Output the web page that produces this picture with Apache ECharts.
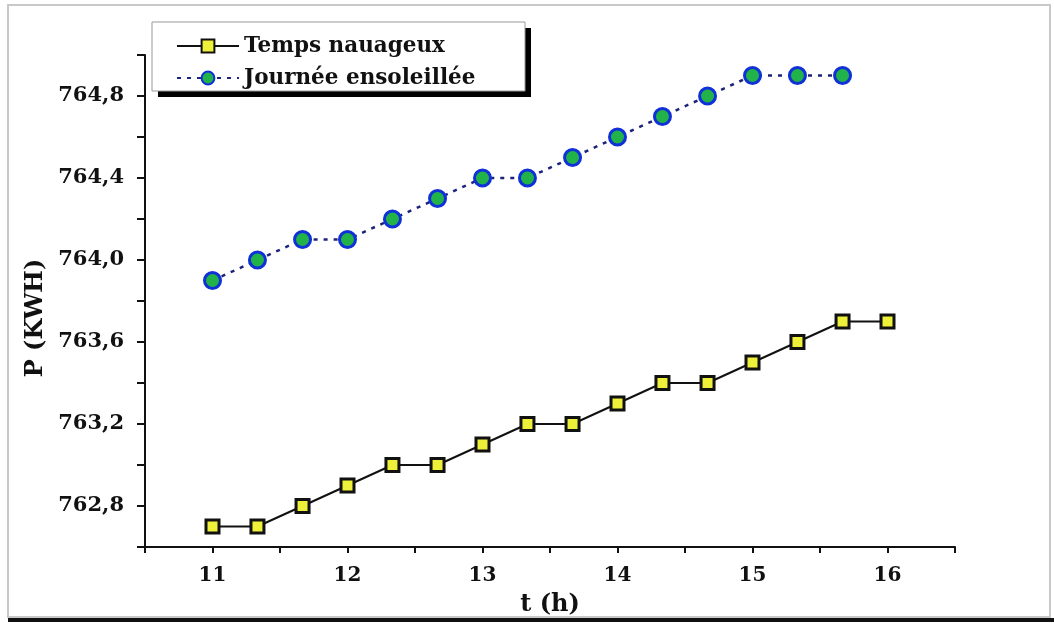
<!DOCTYPE html>
<html>
<head>
<meta charset="utf-8">
<script src="https://cdn.jsdelivr.net/npm/echarts@6/dist/echarts.min.js"></script>
<style>
html,body{margin:0;padding:0;background:#fff;}
#c{width:1054px;height:623px;}
</style>
</head>
<body>
<div id="c"></div>
<script>
// Time (h) for each measurement, every 20 minutes
var timesCloudy = [11, 11.333, 11.667, 12, 12.333, 12.667, 13, 13.333, 13.667, 14, 14.333, 14.667, 15, 15.333, 15.667, 16];
var valuesCloudy = [762.7, 762.7, 762.8, 762.9, 763.0, 763.0, 763.1, 763.2, 763.2, 763.3, 763.4, 763.4, 763.5, 763.6, 763.7, 763.7];
var timesSunny = [11, 11.333, 11.667, 12, 12.333, 12.667, 13, 13.333, 13.667, 14, 14.333, 14.667, 15, 15.333, 15.667];
var valuesSunny = [763.9, 764.0, 764.1, 764.1, 764.2, 764.3, 764.4, 764.4, 764.5, 764.6, 764.7, 764.8, 764.9, 764.9, 764.9];
var seriesNames = ['Temps nauageux', 'Journée ensoleillée'];
var xTickLabels = ['11', '12', '13', '14', '15', '16'];
var yTickLabels = ['762,8', '763,2', '763,6', '764,0', '764,4', '764,8'];

function pairs(xs, ys) { return xs.map(function (x, i) { return [x, ys[i]]; }); }

var FONT = 'DejaVu Serif';
var chart = echarts.init(document.getElementById('c'), null, {renderer: 'canvas'});
chart.setOption({
  backgroundColor: '#ffffff',
  animation: false,
  graphic: [
    {type: 'rect', shape: {x: 8, y: 5, width: 1042, height: 612}, style: {fill: 'none', stroke: '#c8c8c8', lineWidth: 2}, z: -1},
    {type: 'line', shape: {x1: 8, y1: 620, x2: 1054, y2: 620}, style: {stroke: '#111', lineWidth: 4}, z: -1},
    {type: 'rect', shape: {x: 158, y: 28, width: 373, height: 69}, style: {fill: '#000'}, z: 5},
    {type: 'rect', shape: {x: 152, y: 22, width: 373, height: 69}, style: {fill: '#fff', stroke: '#999', lineWidth: 1}, z: 6}
  ],
  legend: {
    left: 176, top: 35,
    orient: 'vertical',
    itemWidth: 62, itemHeight: 16, itemGap: 10,
    padding: 0,
    z: 10,
    textStyle: {fontFamily: FONT, fontWeight: 'bold', fontSize: 21.5, color: '#111'},
    data: seriesNames
  },
  grid: {left: 145, right: 99, top: 55, bottom: 76, containLabel: false},
  xAxis: {
    type: 'value', min: 10.5, max: 16.5, interval: 0.5,
    name: 't (h)', nameLocation: 'middle', nameGap: 46,
    nameTextStyle: {fontFamily: FONT, fontWeight: 'bold', fontSize: 24, color: '#111'},
    axisLine: {show: true, onZero: false, lineStyle: {color: '#111', width: 2}},
    axisTick: {show: true, length: 6, lineStyle: {color: '#111', width: 2}},
    splitLine: {show: false},
    axisLabel: {
      margin: 19, fontFamily: FONT, fontWeight: 'bold', fontSize: 20, color: '#111',
      formatter: function (v) {
        var i = xTickLabels.indexOf(String(Math.round(v * 10) / 10));
        return i >= 0 ? xTickLabels[i] : '';
      }
    }
  },
  yAxis: {
    type: 'value', min: 762.6, max: 765.0, interval: 0.2,
    name: 'P (KWH)', nameLocation: 'middle', nameGap: 88, nameRotate: 90,
    nameTextStyle: {fontFamily: FONT, fontWeight: 'bold', fontSize: 24, color: '#111', padding: [0, 0, 0, -34]},
    axisLine: {show: true, lineStyle: {color: '#111', width: 2}},
    axisTick: {show: true, length: 8, lineStyle: {color: '#111', width: 2}},
    splitLine: {show: false},
    axisLabel: {
      margin: 21, fontFamily: FONT, fontWeight: 'bold', fontSize: 21, color: '#111',
      formatter: function (v) {
        var s = (Math.round(v * 10) / 10).toFixed(1).replace('.', ',');
        return yTickLabels.indexOf(s) >= 0 ? s : '';
      }
    }
  },
  series: [
    {
      name: seriesNames[0], type: 'line',
      data: pairs(timesCloudy, valuesCloudy),
      symbol: 'rect', symbolSize: 13,
      lineStyle: {color: '#111', width: 2},
      itemStyle: {color: '#eef03a', borderColor: '#111', borderWidth: 3}
    },
    {
      name: seriesNames[1], type: 'line',
      data: pairs(timesSunny, valuesSunny),
      symbol: 'circle', symbolSize: 16,
      lineStyle: {color: '#1c237a', width: 2.5, type: [4, 6]},
      itemStyle: {color: '#22b24a', borderColor: '#1030d8', borderWidth: 3}
    }
  ]
});
</script>
</body>
</html>
